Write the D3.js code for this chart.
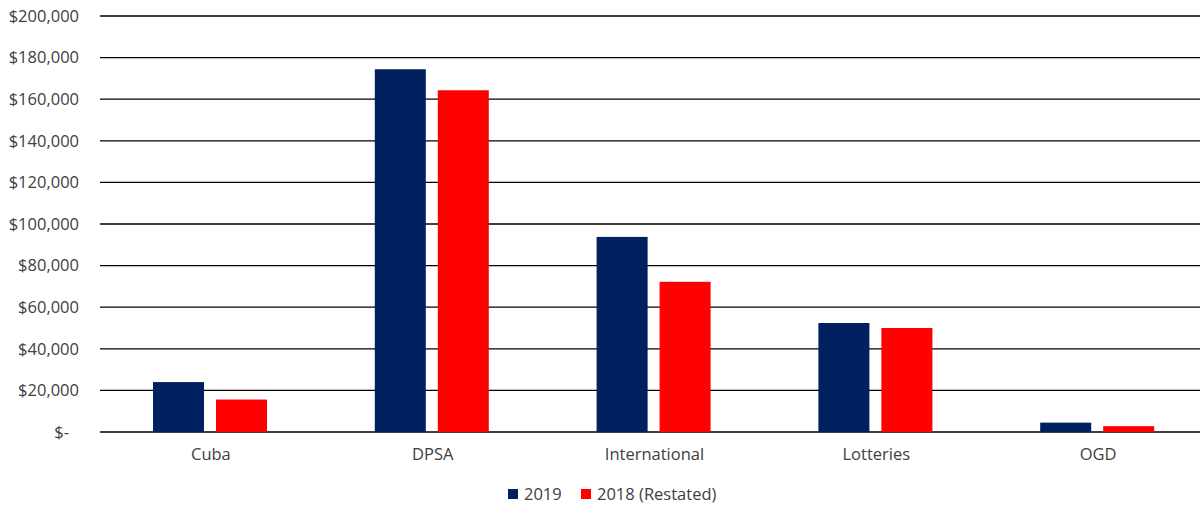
<!DOCTYPE html>
<html><head><meta charset="utf-8">
<script src="https://cdn.jsdelivr.net/npm/d3@7"></script>
<style>body{margin:0;background:#fff}svg{display:block}text{font-family:"Open Sans",sans-serif;fill:#404040}</style>
</head><body>
<svg id="c" width="1202" height="506"></svg>
<script>
const categories = ["Cuba","DPSA","International","Lotteries","OGD"];
const seriesNames = ["2019","2018 (Restated)"];
const values2019 = [24000,174400,93800,52400,4500];
const values2018 = [15600,164300,72200,50000,2800];
const yTicks = [0,20000,40000,60000,80000,100000,120000,140000,160000,180000,200000];
const colors = ["#002060","#FF0000"];

const svg = d3.select("#c");
const x0 = d3.scaleBand().domain(categories).range([100,1209]).padding(0);
const x1 = d3.scaleBand().domain(seriesNames).range([53,167]).paddingInner(0.19).paddingOuter(0);
const y = d3.scaleLinear().domain([0,200000]).range([432,16]);
const fmt = v => v===0 ? "$-" : "$" + d3.format(",")(v);

// gridlines
svg.append("g").selectAll("line").data(yTicks).join("line")
  .attr("x1",100).attr("x2",1200)
  .attr("y1",d=>y(d)).attr("y2",d=>y(d))
  .attr("stroke","#000").attr("stroke-width",1.3);

// y axis labels
const yAxis = svg.append("g").attr("transform","translate(86,0)")
  .call(d3.axisLeft(y).tickValues(yTicks).tickFormat(fmt).tickSize(0).tickPadding(7));
yAxis.select(".domain").remove();
yAxis.selectAll("text").style("font-size","16.5px").style("font-family","'Open Sans',sans-serif").attr("fill","#404040")
  .attr("dx",d=>d===0?-10:0);

// bars
const data = categories.map((c,i)=>({cat:c, vals:[values2019[i],values2018[i]]}));
const g = svg.append("g");
g.selectAll("g").data(data).join("g")
  .attr("transform",d=>`translate(${x0(d.cat)},0)`)
  .selectAll("rect").data(d=>d.vals.map((v,j)=>({s:seriesNames[j],v,j})))
  .join("rect")
  .attr("x",d=>x1(d.s)).attr("width",x1.bandwidth())
  .attr("y",d=>y(d.v)).attr("height",d=>y(0)-y(d.v))
  .attr("fill",d=>colors[d.j]);

// x labels
const xAxis = svg.append("g").attr("transform","translate(0,432)")
  .call(d3.axisBottom(x0).tickSize(0).tickPadding(16));
xAxis.select(".domain").remove();
xAxis.selectAll("text").style("font-size","16.5px").style("font-family","'Open Sans',sans-serif").attr("fill","#404040");

// legend
const legendX = [508, 581];
const lg = svg.append("g");
seriesNames.forEach((s,i)=>{
  lg.append("rect").attr("x",legendX[i]).attr("y",489).attr("width",10).attr("height",10).attr("fill",colors[i]);
  lg.append("text").attr("x",legendX[i]+16).attr("y",500).style("font-size","16.5px").text(s);
});
</script>
</body></html>
